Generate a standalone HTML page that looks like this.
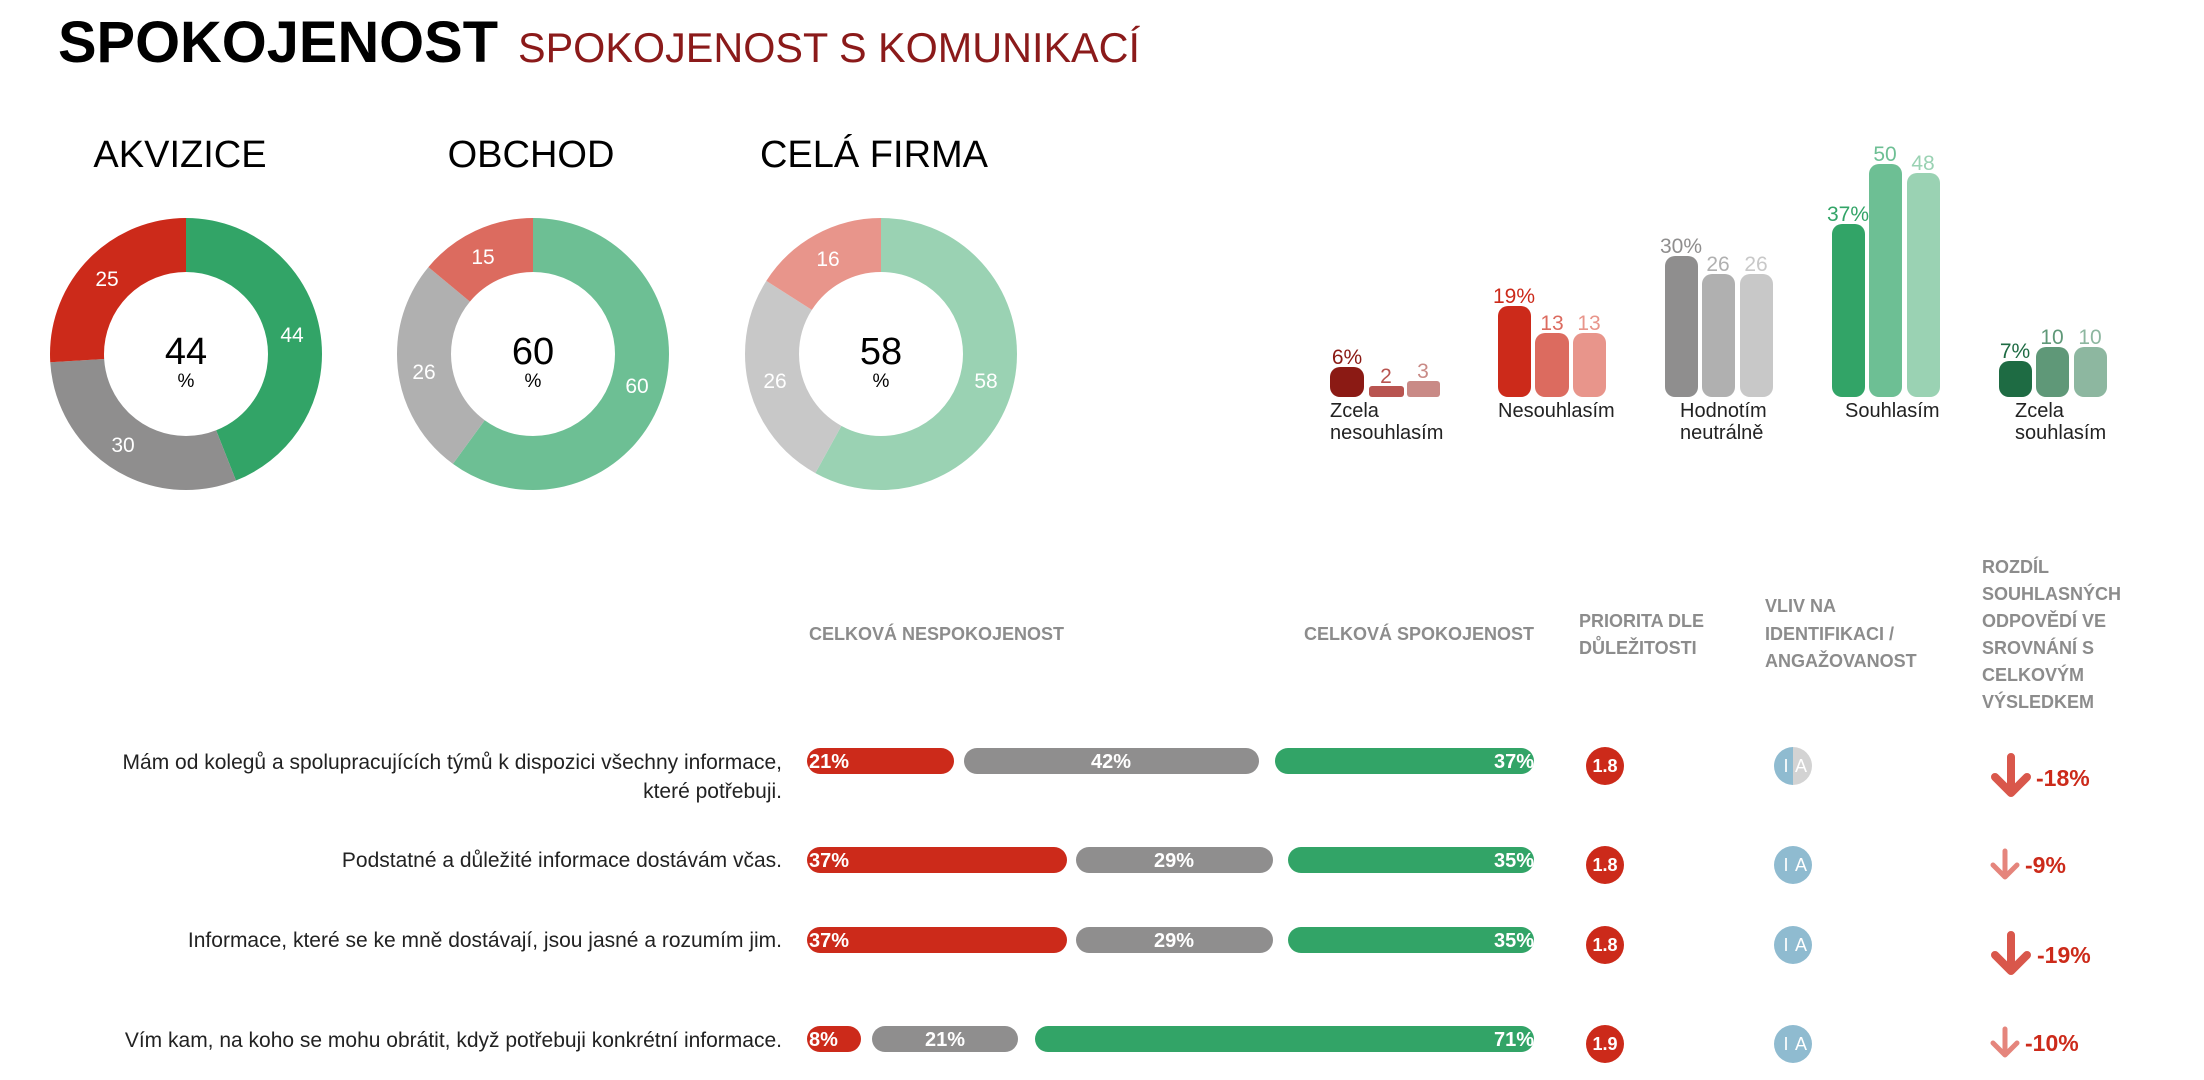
<!DOCTYPE html>
<html><head><meta charset="utf-8"><style>
html,body{margin:0;padding:0;background:#fff;}
svg{display:block;font-family:"Liberation Sans",sans-serif;}
</style></head><body>
<svg width="2204" height="1080" viewBox="0 0 2204 1080" xmlns="http://www.w3.org/2000/svg">
<text x="58" y="62" font-size="58" font-weight="bold" fill="#000" textLength="440" lengthAdjust="spacingAndGlyphs">SPOKOJENOST</text>
<text x="518" y="62" font-size="42" fill="#8b1a1a" textLength="622" lengthAdjust="spacingAndGlyphs">SPOKOJENOST S KOMUNIKACÍ</text>

<g font-size="38" fill="#000" text-anchor="middle">
<text x="180" y="167">AKVIZICE</text>
<text x="531" y="167">OBCHOD</text>
<text x="874" y="167">CELÁ FIRMA</text>
</g>

<g fill="none" stroke-width="54">
 <g transform="rotate(-90 186 354)">
  <circle cx="186" cy="354" r="109" stroke="#32a467" stroke-dasharray="301.3 684.87" stroke-dashoffset="0"/>
  <circle cx="186" cy="354" r="109" stroke="#8f8e8e" stroke-dasharray="205.5 684.87" stroke-dashoffset="-301.3"/>
  <circle cx="186" cy="354" r="109" stroke="#cc2a1a" stroke-dasharray="178.1 684.87" stroke-dashoffset="-506.8"/>
 </g>
 <g transform="rotate(-90 533 354)">
  <circle cx="533" cy="354" r="109" stroke="#6dbf94" stroke-dasharray="410.9 684.87" stroke-dashoffset="0"/>
  <circle cx="533" cy="354" r="109" stroke="#b0b0b0" stroke-dasharray="178.1 684.87" stroke-dashoffset="-410.9"/>
  <circle cx="533" cy="354" r="109" stroke="#dc6b5f" stroke-dasharray="95.9 684.87" stroke-dashoffset="-589"/>
 </g>
 <g transform="rotate(-90 881 354)">
  <circle cx="881" cy="354" r="109" stroke="#9ad2b3" stroke-dasharray="397.2 684.87" stroke-dashoffset="0"/>
  <circle cx="881" cy="354" r="109" stroke="#c8c8c8" stroke-dasharray="178.1 684.87" stroke-dashoffset="-397.2"/>
  <circle cx="881" cy="354" r="109" stroke="#e8958b" stroke-dasharray="109.6 684.87" stroke-dashoffset="-575.3"/>
 </g>
</g>
<g font-size="21" fill="#fff" text-anchor="middle">
<text x="292" y="342">44</text><text x="123" y="452">30</text><text x="107" y="286">25</text>
<text x="483" y="264">15</text><text x="424" y="379">26</text><text x="637" y="393">60</text>
<text x="828" y="266">16</text><text x="775" y="388">26</text><text x="986" y="388">58</text>
</g>
<g fill="#000" text-anchor="middle">
<text x="186" y="364" font-size="38">44</text><text x="186" y="387" font-size="19">%</text>
<text x="533" y="364" font-size="38">60</text><text x="533" y="387" font-size="19">%</text>
<text x="881" y="364" font-size="38">58</text><text x="881" y="387" font-size="19">%</text>
</g>

<g>
 <rect x="1330" y="367" width="34" height="30" rx="10" fill="#8b1a14"/>
 <rect x="1369" y="386" width="35" height="11" rx="3" fill="#b85450"/>
 <rect x="1407" y="381" width="33" height="16" rx="3" fill="#c98a86"/>
 <rect x="1498" y="306" width="33" height="91" rx="10" fill="#cc2a1a"/>
 <rect x="1535" y="333" width="34" height="64" rx="10" fill="#dc6b5f"/>
 <rect x="1573" y="333" width="33" height="64" rx="10" fill="#e8958b"/>
 <rect x="1665" y="256" width="33" height="141" rx="10" fill="#8f8e8e"/>
 <rect x="1702" y="274" width="33" height="123" rx="10" fill="#b0b0b0"/>
 <rect x="1740" y="274" width="33" height="123" rx="10" fill="#c8c8c8"/>
 <rect x="1832" y="224" width="33" height="173" rx="10" fill="#32a467"/>
 <rect x="1869" y="164" width="33" height="233" rx="10" fill="#6dbf94"/>
 <rect x="1907" y="173" width="33" height="224" rx="10" fill="#9ad2b3"/>
 <rect x="1999" y="361" width="33" height="36" rx="10" fill="#1e6b43"/>
 <rect x="2036" y="347" width="33" height="50" rx="10" fill="#5f9878"/>
 <rect x="2074" y="347" width="33" height="50" rx="10" fill="#8db7a0"/>
</g>
<g font-size="21" text-anchor="middle">
 <text x="1347" y="364" fill="#8b1a14">6%</text>
 <text x="1386" y="383" fill="#b85450">2</text>
 <text x="1423" y="378" fill="#c98a86">3</text>
 <text x="1514" y="303" fill="#cc2a1a">19%</text>
 <text x="1552" y="330" fill="#dc6b5f">13</text>
 <text x="1589" y="330" fill="#e8958b">13</text>
 <text x="1681" y="253" fill="#8f8e8e">30%</text>
 <text x="1718" y="271" fill="#b0b0b0">26</text>
 <text x="1756" y="271" fill="#c8c8c8">26</text>
 <text x="1848" y="221" fill="#32a467">37%</text>
 <text x="1885" y="161" fill="#6dbf94">50</text>
 <text x="1923" y="170" fill="#9ad2b3">48</text>
 <text x="2015" y="358" fill="#1e6b43">7%</text>
 <text x="2052" y="344" fill="#5f9878">10</text>
 <text x="2090" y="344" fill="#8db7a0">10</text>
</g>
<g font-size="20" fill="#222">
 <text x="1330" y="417">Zcela</text><text x="1330" y="439">nesouhlasím</text>
 <text x="1498" y="417">Nesouhlasím</text>
 <text x="1680" y="417">Hodnotím</text><text x="1680" y="439">neutrálně</text>
 <text x="1845" y="417">Souhlasím</text>
 <text x="2015" y="417">Zcela</text><text x="2015" y="439">souhlasím</text>
</g>

<g font-size="18" font-weight="bold" fill="#8c8c8c">
 <text x="809" y="640">CELKOVÁ NESPOKOJENOST</text>
 <text x="1534" y="640" text-anchor="end">CELKOVÁ SPOKOJENOST</text>
 <text x="1579" y="627">PRIORITA DLE</text><text x="1579" y="654">DŮLEŽITOSTI</text>
 <text x="1765" y="612">VLIV NA</text><text x="1765" y="640">IDENTIFIKACI /</text><text x="1765" y="667">ANGAŽOVANOST</text>
 <text x="1982" y="573">ROZDÍL</text><text x="1982" y="600">SOUHLASNÝCH</text><text x="1982" y="627">ODPOVĚDÍ VE</text>
 <text x="1982" y="654">SROVNÁNÍ S</text><text x="1982" y="681">CELKOVÝM</text><text x="1982" y="708">VÝSLEDKEM</text>
</g>

<g font-size="21" fill="#222" text-anchor="end">
 <text x="782" y="769">Mám od kolegů a spolupracujících týmů k dispozici všechny informace,</text>
 <text x="782" y="798">které potřebuji.</text>
 <text x="782" y="867">Podstatné a důležité informace dostávám včas.</text>
 <text x="782" y="947">Informace, které se ke mně dostávají, jsou jasné a rozumím jim.</text>
 <text x="782" y="1047">Vím kam, na koho se mohu obrátit, když potřebuji konkrétní informace.</text>
</g>

<g>
 <rect x="807" y="748" width="147" height="26" rx="13" fill="#cc2a1a"/>
 <rect x="964" y="748" width="295" height="26" rx="13" fill="#8f8e8e"/>
 <rect x="1275" y="748" width="259" height="26" rx="13" fill="#32a467"/>
 <rect x="807" y="847" width="260" height="26" rx="13" fill="#cc2a1a"/>
 <rect x="1076" y="847" width="197" height="26" rx="13" fill="#8f8e8e"/>
 <rect x="1288" y="847" width="246" height="26" rx="13" fill="#32a467"/>
 <rect x="807" y="927" width="260" height="26" rx="13" fill="#cc2a1a"/>
 <rect x="1076" y="927" width="197" height="26" rx="13" fill="#8f8e8e"/>
 <rect x="1288" y="927" width="246" height="26" rx="13" fill="#32a467"/>
 <rect x="807" y="1026" width="54" height="26" rx="13" fill="#cc2a1a"/>
 <rect x="872" y="1026" width="146" height="26" rx="13" fill="#8f8e8e"/>
 <rect x="1035" y="1026" width="499" height="26" rx="13" fill="#32a467"/>
</g>
<g font-size="20" font-weight="bold" fill="#fff">
 <text x="809" y="768">21%</text><text x="1111" y="768" text-anchor="middle">42%</text><text x="1534" y="768" text-anchor="end">37%</text>
 <text x="809" y="867">37%</text><text x="1174" y="867" text-anchor="middle">29%</text><text x="1534" y="867" text-anchor="end">35%</text>
 <text x="809" y="947">37%</text><text x="1174" y="947" text-anchor="middle">29%</text><text x="1534" y="947" text-anchor="end">35%</text>
 <text x="809" y="1046">8%</text><text x="945" y="1046" text-anchor="middle">21%</text><text x="1534" y="1046" text-anchor="end">71%</text>
</g>

<g fill="#cc2a1a">
 <circle cx="1605" cy="766" r="19"/><circle cx="1605" cy="865" r="19"/>
 <circle cx="1605" cy="945" r="19"/><circle cx="1605" cy="1044" r="19"/>
</g>
<g font-size="18" font-weight="bold" fill="#fff" text-anchor="middle">
 <text x="1605" y="772">1.8</text><text x="1605" y="871">1.8</text>
 <text x="1605" y="951">1.8</text><text x="1605" y="1050">1.9</text>
</g>

<g>
 <path d="M1793 747 A19 19 0 0 0 1793 785 Z" fill="#8fbbd0"/>
 <path d="M1793 747 A19 19 0 0 1 1793 785 Z" fill="#d3d3d3"/>
 <circle cx="1793" cy="865" r="19" fill="#8fbbd0"/>
 <circle cx="1793" cy="945" r="19" fill="#8fbbd0"/>
 <circle cx="1793" cy="1044" r="19" fill="#8fbbd0"/>
</g>
<g font-size="18" fill="#fff" text-anchor="middle">
 <text x="1786" y="772">I</text><text x="1801" y="772">A</text>
 <text x="1786" y="871">I</text><text x="1801" y="871">A</text>
 <text x="1786" y="951">I</text><text x="1801" y="951">A</text>
 <text x="1786" y="1050">I</text><text x="1801" y="1050">A</text>
</g>

<g fill="none" stroke-linecap="round" stroke-linejoin="round">
 <g stroke="#d9574b" stroke-width="8">
  <path d="M2011 757 L2011 793 M1995 777 L2011 793 L2027 777"/>
  <path d="M2011 935 L2011 971 M1995 955 L2011 971 L2027 955"/>
 </g>
 <g stroke="#e5857c" stroke-width="5">
  <path d="M2005 851 L2005 877 M1993 865 L2005 877 L2017 865"/>
  <path d="M2005 1029 L2005 1055 M1993 1043 L2005 1055 L2017 1043"/>
 </g>
</g>
<g font-size="23" font-weight="bold" fill="#cc2a1a">
 <text x="2036" y="786">-18%</text>
 <text x="2025" y="873">-9%</text>
 <text x="2037" y="963">-19%</text>
 <text x="2025" y="1051">-10%</text>
</g>
</svg>
</body></html>
